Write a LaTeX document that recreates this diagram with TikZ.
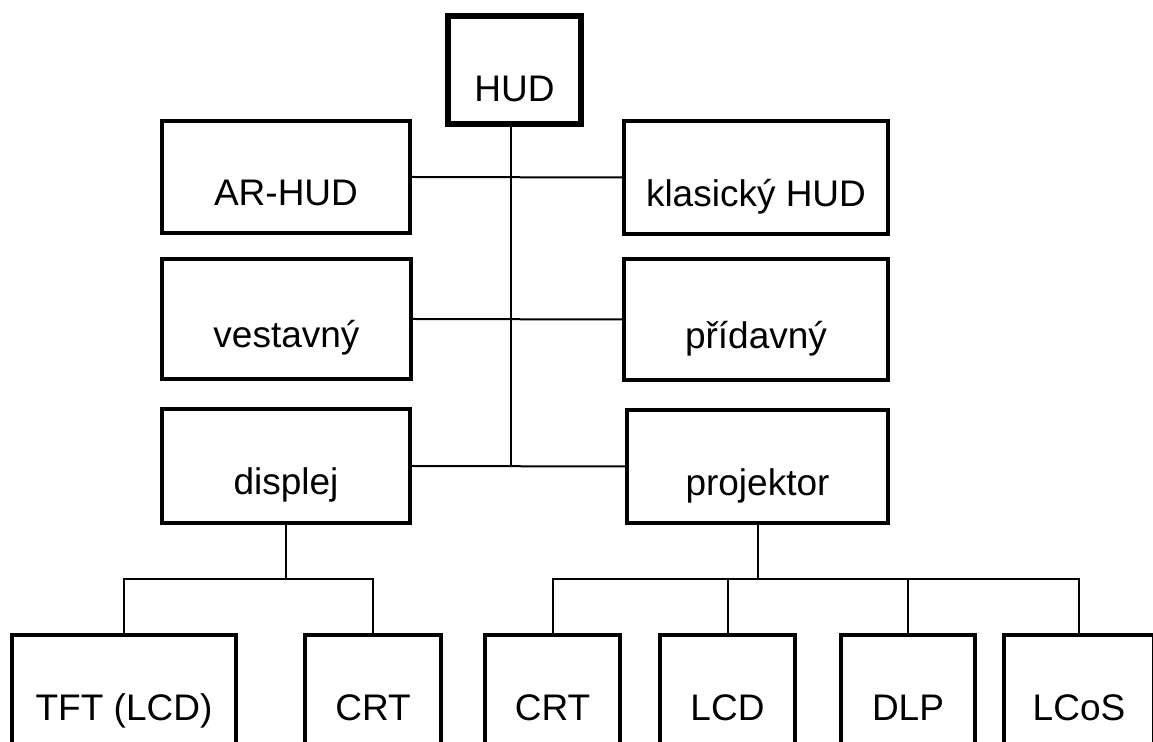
\documentclass[tikz,border=0pt]{standalone}
\usepackage{fontspec}
\setmainfont{Liberation Sans}
\tikzstyle{box}=[draw, line width=2pt, text height=29pt, text depth=0pt, font=\fontsize{18.5}{21}\selectfont]
\tikzstyle{root}=[box, line width=3pt, text height=32pt]
\tikzstyle{link}=[line width=1pt]

\begin{document}
\begin{tikzpicture}[x=0.5pt, y=-0.5pt]
\useasboundingbox (0,0) rectangle (1153,742);
\clip (0,0) rectangle (1153,742);
% Boxes
    \node[root, minimum width=66.5pt, minimum height=54pt] (hud) at (514.5,70) {HUD};
    \node[box, minimum width=124pt, minimum height=56pt] (arhud) at (286,177) {AR-HUD};
    \node[box, minimum width=132pt, minimum height=56.5pt] (klasicky) at (756,177.5) {klasický HUD};
    \node[box, minimum width=124.5pt, minimum height=60pt] (vestavny) at (286.5,319) {vestavný};
    \node[box, minimum width=132pt, minimum height=60.5pt] (pridavny) at (756,319.5) {přídavný};
    \node[box, minimum width=124pt, minimum height=57pt] (displej) at (286,466) {displej};
    \node[box, minimum width=130.5pt, minimum height=56.5pt] (projektor) at (757.5,466.5) {projektor};
    \node[box, minimum width=112pt, minimum height=57pt] (tft) at (124,692) {TFT (LCD)};
    \node[box, minimum width=68pt, minimum height=57pt] (crtd) at (373,692) {CRT};
    \node[box, minimum width=67.5pt, minimum height=57pt] (crtp) at (552.5,692) {CRT};
    \node[box, minimum width=67.5pt, minimum height=57pt] (lcd) at (727.5,692) {LCD};
    \node[box, minimum width=67pt, minimum height=57pt] (dlp) at (908,692) {DLP};
    \node[box, minimum width=75pt, minimum height=57pt] (lcos) at (1079,692) {LCoS};
% Junctions
    \coordinate (trunk) at (511,466);
    \coordinate (dbus) at (286,579);
    \coordinate (pbus) at (757.5,579);
% Lines
    \draw[link] (hud.south -| trunk) -- (trunk);
    \draw[link] (arhud.east) -- (klasicky.west);
    \draw[link] (vestavny.east) -- (pridavny.west);
    \draw[link] (displej.east) -- (projektor.west);
    \draw[link] (displej.south) -- (dbus);
    \draw[link] (tft.north) |- (dbus) -| (crtd.north);
    \draw[link] (projektor.south) -- (pbus);
    \draw[link] (crtp.north) |- (pbus) -| (lcos.north);
    \draw[link] (lcd.north) -- (lcd.north |- pbus);
    \draw[link] (dlp.north) -- (dlp.north |- pbus);
\end{tikzpicture}
\end{document}
